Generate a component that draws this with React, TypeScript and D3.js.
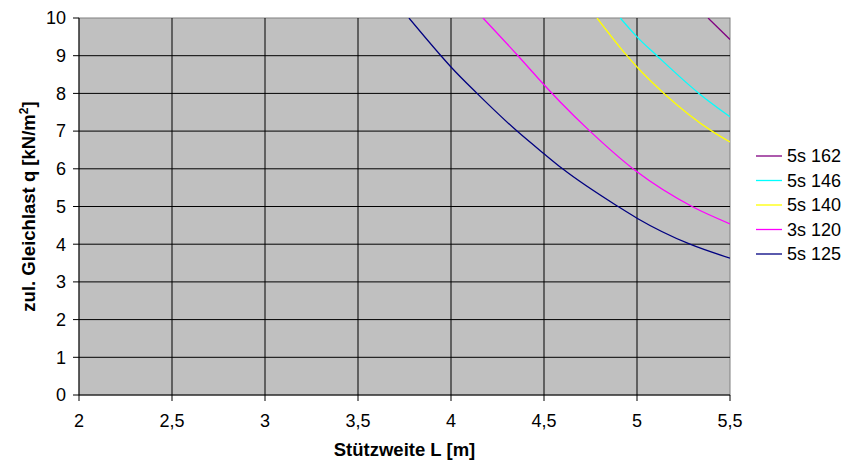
import React from "react";
import * as d3 from "d3";

// Allowable uniform load q [kN/m²] over span L [m] for each profile
const span5s125 = [3.774, 3.946, 4.0, 4.14, 4.355, 4.5, 4.6, 4.898, 5.0, 5.285, 5.5];
const load5s125 = [10, 9, 8.7, 8, 7, 6.4, 6, 5, 4.69, 4, 3.63];

const span3s120 = [4.172, 4.36, 4.5, 4.586, 4.747, 5.0, 5.296, 5.5];
const load3s120 = [10, 9, 8.23, 7.78, 7, 5.92, 5, 4.54];

const span5s140 = [4.785, 4.946, 5.0, 5.145, 5.403, 5.5];
const load5s140 = [10, 9, 8.7, 8, 7, 6.71];

const span5s146 = [4.91, 5.0, 5.107, 5.333, 5.5];
const load5s146 = [10, 9.5, 9, 8, 7.38];

const span5s162 = [5.382, 5.5];
const load5s162 = [10, 9.43];

const seriesNames = ["5s 162", "5s 146", "5s 140", "3s 120", "5s 125"];
const seriesColors = ["#800080", "#00FFFF", "#FFFF00", "#FF00FF", "#000080"];
const seriesSpans = [span5s162, span5s146, span5s140, span3s120, span5s125];
const seriesLoads = [load5s162, load5s146, load5s140, load3s120, load5s125];

const xTicks = [2, 2.5, 3, 3.5, 4, 4.5, 5, 5.5];
const yTicks = [0, 1, 2, 3, 4, 5, 6, 7, 8, 9, 10];

const W = 849;
const H = 461;
const plot = { left: 79, right: 730, top: 18, bottom: 395 };
const font = "'Liberation Sans', Arial, sans-serif";

export default function App() {
  const x = d3.scaleLinear().domain([2, 5.5]).range([plot.left, plot.right]);
  const y = d3.scaleLinear().domain([0, 10]).range([plot.bottom, plot.top]);
  const fmt = (v: number) => String(v).replace(".", ",");

  const line = d3
    .line<[number, number]>()
    .x((d) => x(d[0]))
    .y((d) => y(d[1]))
    .curve(d3.curveMonotoneX);

  const legendX0 = 756;
  const legendX1 = 782;
  const legendY0 = 156;
  const legendStep = 24.5;

  return (
    <svg
      width={W}
      height={H}
      viewBox={`0 0 ${W} ${H}`}
      style={{ position: "absolute", left: 0, top: 0, background: "#fff" }}
      fontFamily={font}
    >
      <defs>
        <clipPath id="plotClip">
          <rect x={plot.left} y={plot.top} width={plot.right - plot.left} height={plot.bottom - plot.top} />
        </clipPath>
      </defs>

      {/* plot background */}
      <rect
        x={plot.left}
        y={plot.top}
        width={plot.right - plot.left}
        height={plot.bottom - plot.top}
        fill="#C0C0C0"
        stroke="#808080"
        strokeWidth={1}
      />

      {/* grid */}
      {yTicks.slice(1, -1).map((t) => (
        <line key={`gy${t}`} x1={plot.left} x2={plot.right} y1={y(t)} y2={y(t)} stroke="#000" strokeWidth={1} />
      ))}
      {xTicks.slice(1, -1).map((t) => (
        <line key={`gx${t}`} x1={x(t)} x2={x(t)} y1={plot.top} y2={plot.bottom} stroke="#000" strokeWidth={1} />
      ))}

      {/* curves */}
      <g clipPath="url(#plotClip)">
        {seriesNames.map((name, i) => {
          const pts = seriesSpans[i].map((L, j) => [L, seriesLoads[i][j]] as [number, number]);
          return (
            <path key={name} d={line(pts) ?? ""} fill="none" stroke={seriesColors[i]} strokeWidth={1.3} />
          );
        })}
      </g>

      {/* axes */}
      <line x1={plot.left} x2={plot.left} y1={plot.top} y2={plot.bottom} stroke="#000" strokeWidth={1} />
      <line x1={plot.left} x2={plot.right} y1={plot.bottom} y2={plot.bottom} stroke="#000" strokeWidth={1} />

      {yTicks.map((t) => (
        <g key={`ty${t}`}>
          <line x1={plot.left - 6} x2={plot.left} y1={y(t)} y2={y(t)} stroke="#000" strokeWidth={1} />
          <text x={66} y={y(t) + 6.3} textAnchor="end" fontSize={18} fill="#000">
            {fmt(t)}
          </text>
        </g>
      ))}
      {xTicks.map((t) => (
        <g key={`tx${t}`}>
          <line x1={x(t)} x2={x(t)} y1={plot.bottom} y2={plot.bottom + 6} stroke="#000" strokeWidth={1} />
          <text x={x(t)} y={427} textAnchor="middle" fontSize={18} fill="#000">
            {fmt(t)}
          </text>
        </g>
      ))}

      {/* axis titles */}
      <text
        x={(plot.left + plot.right) / 2}
        y={456}
        textAnchor="middle"
        fontSize={18.5}
        fontWeight="bold"
        fill="#000"
      >
        Stützweite L [m]
      </text>
      <text
        transform={`translate(35, ${(plot.top + plot.bottom) / 2}) rotate(-90)`}
        textAnchor="middle"
        fontSize={18.5}
        fontWeight="bold"
        fill="#000"
      >
        zul. Gleichlast q [kN/m
        <tspan fontSize={12} dy={-7}>
          2
        </tspan>
        <tspan dy={7}>]</tspan>
      </text>

      {/* legend */}
      {seriesNames.map((name, i) => {
        const ly = legendY0 + i * legendStep;
        return (
          <g key={`lg${name}`}>
            <line x1={legendX0} x2={legendX1} y1={ly} y2={ly} stroke={seriesColors[i]} strokeWidth={1.3} />
            <text x={787} y={ly + 6.3} fontSize={18} fill="#000">
              {name}
            </text>
          </g>
        );
      })}
    </svg>
  );
}
